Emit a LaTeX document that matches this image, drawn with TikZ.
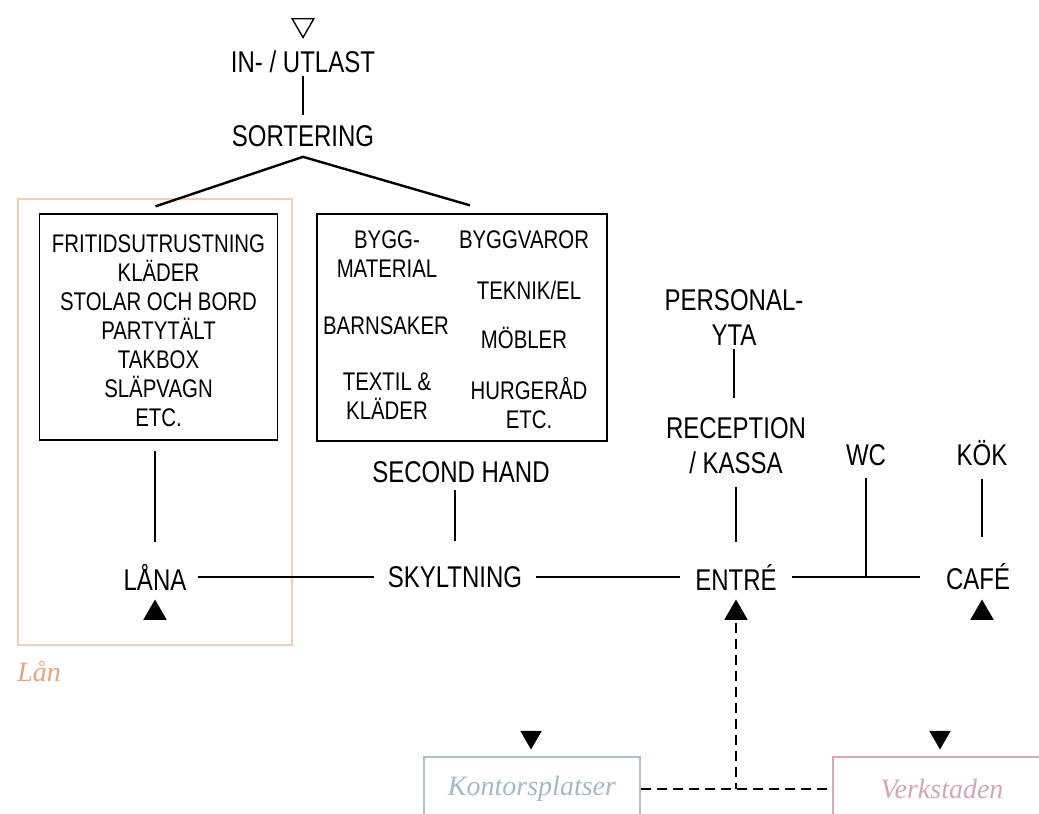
\documentclass[tikz,border=0pt]{standalone}
\usepackage{fontspec}
\setmainfont{Liberation Sans}[FakeStretch=0.8]
\newfontfamily\zonefont{Liberation Serif}
\usepackage{tikz}
\usetikzlibrary{shapes.geometric,calc}
\definecolor{Ink}{HTML}{000000}
\definecolor{LanLine}{HTML}{F2CDB8}
\definecolor{LanText}{HTML}{E3A684}
\definecolor{KontorLine}{HTML}{A8BECE}
\definecolor{KontorText}{HTML}{A4B8C6}
\definecolor{VerkLine}{HTML}{D6ABB9}
\definecolor{VerkText}{HTML}{D2A7B5}

\begin{document}
\begin{tikzpicture}[
  x=1pt,y=-1pt,
  lbl/.style={align=center,inner sep=0pt,font=\fontsize{30}{35}\selectfont},
  item/.style={align=center,inner sep=0pt,font=\fontsize{25.5}{29}\selectfont},
  catbox/.style={draw=Ink,line width=1.3pt,inner sep=0pt},
  link/.style={draw=Ink,line width=2.4pt},
  dashlink/.style={link,dash pattern=on 10pt off 6pt},
  uptri/.style={regular polygon,regular polygon sides=3,minimum size=27pt,inner sep=0pt,fill=Ink},
  downtri/.style={uptri,shape border rotate=180,minimum size=25pt},
  zone/.style={line width=2.7pt,inner sep=0pt,font=\zonefont\itshape\fontsize{28}{34}\selectfont}
]
\useasboundingbox (0,0) rectangle (1039,814);

% loading and sorting
\node[downtri,fill=none,draw=Ink,line width=1.4pt] (dock) at (303,25) {};
\node[lbl] (inut) at (303,62) {IN- / UTLAST};
\node[lbl] (sort) at (303,136) {SORTERING};
\draw[link,shorten <=3pt,shorten >=10pt] (inut) -- (sort);

% lending zone
\node[zone,draw=LanLine,minimum width=274,minimum height=446] (lanzone) at (155,422) {};
\node[zone,text=LanText,anchor=west] (lanlabel) at (16,672) {Lån};
\node[catbox,minimum width=238,minimum height=226] (lanbox) at (158.5,327) {};
\node[item] (lanitems) at (158.5,331)
  {FRITIDSUTRUSTNING\\KLÄDER\\STOLAR OCH BORD\\PARTYTÄLT\\TAKBOX\\SLÄPVAGN\\ETC.};

% second hand box
\node[catbox,minimum width=290,minimum height=227] (shbox) at (462,327.5) {};
\node[item] (bygg) at (387,254) {BYGG-\\MATERIAL};
\node[item] (byggv) at (524,240) {BYGGVAROR};
\node[item] (teknik) at (529,290) {TEKNIK/EL};
\node[item] (barn) at (386,326) {BARNSAKER};
\node[item] (mobler) at (524,338) {MÖBLER};
\node[item] (textil) at (387,396) {TEXTIL \&\\KLÄDER};
\node[item] (hush) at (529,403) {HURGERÅD\\ETC.};

\coordinate (split) at ($(sort.south)+(0,10)$);
\draw[link] ($(lanbox.north)+(-3,-7)$) -- (split) -- ($(shbox.north)+(8,-8)$);

% main line
\node[lbl] (lana) at (155,577) {LÅNA};
\node[uptri] (lanatri) at (155,613) {};
\node[lbl] (second) at (461,472) {SECOND HAND};
\node[lbl] (skylt) at (455,577) {SKYLTNING};
\node[lbl] (personal) at (734,318) {PERSONAL-\\YTA};
\node[lbl] (recep) at (736,446) {RECEPTION\\/ KASSA};
\node[lbl] (entre) at (736,577) {ENTRÉ};
\node[uptri] (entretri) at (736,613) {};
\node[lbl] (wc) at (866,455) {WC};
\node[lbl] (kok) at (982,453) {KÖK};
\node[lbl] (cafe) at (978,577) {CAFÉ};
\node[uptri] (cafetri) at (982,613) {};
\coordinate (wcjoin) at (wc |- entre);

\draw[link,shorten <=10pt,shorten >=22pt] (lana |- lanbox.south) -- (lana);
\draw[link,shorten <=11pt,shorten >=14pt] (lana) -- (skylt);
\draw[link,shorten <=7pt,shorten >=25pt] (skylt |- second.south) -- (skylt.north);
\draw[link,shorten <=14pt,shorten >=15pt] (skylt) -- (entre);
\draw[link,shorten <=15pt,shorten >=26pt] (entre) -- (cafe);
\draw[link,shorten <=3pt,shorten >=20pt] (personal.south) -- (personal |- recep.north);
\draw[link,shorten <=13pt,shorten >=22pt] (recep.south) -- (entre.north);
\draw[link,shorten <=12pt] (wc) -- (wcjoin);
\draw[link,shorten <=13pt,shorten >=27pt] (kok) -- (kok |- cafe.north);

% offices and workshop
\node[zone,draw=KontorLine,text=KontorText,minimum width=216,minimum height=64] (kontor) at (532,789) {Kontorsplatser};
\node[zone,draw=VerkLine,text=VerkText,minimum width=218,minimum height=64] (verk) at (942,789) {Verkstaden};
\node[downtri] (kontortri) at (531,737) {};
\node[downtri] (verktri) at (940,737) {};
\coordinate (dashjoin) at (entre |- kontor);
\draw[dashlink] (entretri.south) ++(0,3) -- (dashjoin);
\draw[dashlink] (kontor.east) -- (verk.west);
\end{tikzpicture}
\end{document}
